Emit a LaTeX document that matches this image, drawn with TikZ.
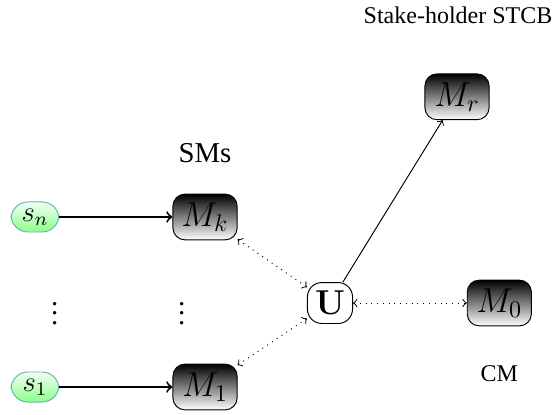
\documentclass[tikz,border=0pt]{standalone}
\usepackage[no-math]{fontspec}
\setmainfont{Liberation Serif}
\usepackage{amsmath}
\usetikzlibrary{arrows,positioning}

\begin{document}
\begin{tikzpicture}[
  mach/.style={draw,rounded corners=5pt,top color=black,bottom color=white,
               minimum width=9.4mm,minimum height=6.7mm,inner sep=2pt,font=\Large},
  src/.style={draw=teal!60,rounded corners=7pt,top color=green!5,bottom color=green!45,
              minimum width=7mm,minimum height=4.4mm,inner sep=1pt,font=\large},
  hub/.style={draw,rounded corners=6pt,fill=white,minimum width=6.6mm,
              minimum height=6mm,inner sep=2pt,font=\Large},
  feed/.style={->,thick},
  link/.style={<->,dotted}]

\useasboundingbox (-4.833,-1.626) rectangle (3.266,4.438);

% ---- nodes ------------------------------------------------------------
\node[hub]  (u)  at (0,0)          {$\mathbf{U}$};
\node[mach] (mk) at (-1.83,1.26)   {$M_k$};
\node[mach] (m1) at (-1.83,-1.23)  {$M_1$};
\node[src]  (sn) at (-4.32,1.26)   {$s_n$};
\node[src]  (s1) at (-4.32,-1.23)  {$s_1$};
\node[mach] (m0) at (2.48,0)       {$M_0$};
\node[mach] (mr) at (1.86,3.02)    {$M_r$};

\node[font=\large] (vl) at (-4.03,-0.05) {$\vdots$};
\node[font=\large] (vr) at (-2.17,-0.05) {$\vdots$};

% ---- labels -----------------------------------------------------------
\node (sms)  at (-1.83,2.20) {\large SMs};
\node (cm)   at (2.48,-1.04) {CM};
\node (stcb) at (1.875,4.22) {Stake-holder STCB};

% ---- edges ------------------------------------------------------------
\draw[feed] (sn) -- (mk);
\draw[feed] (s1) -- (m1);
\draw[->] (u) -- (mr);
\draw[link] (mk) -- (u);
\draw[link] (m1) -- (u);
\draw[link] (u) -- (m0);
\end{tikzpicture}
\end{document}
